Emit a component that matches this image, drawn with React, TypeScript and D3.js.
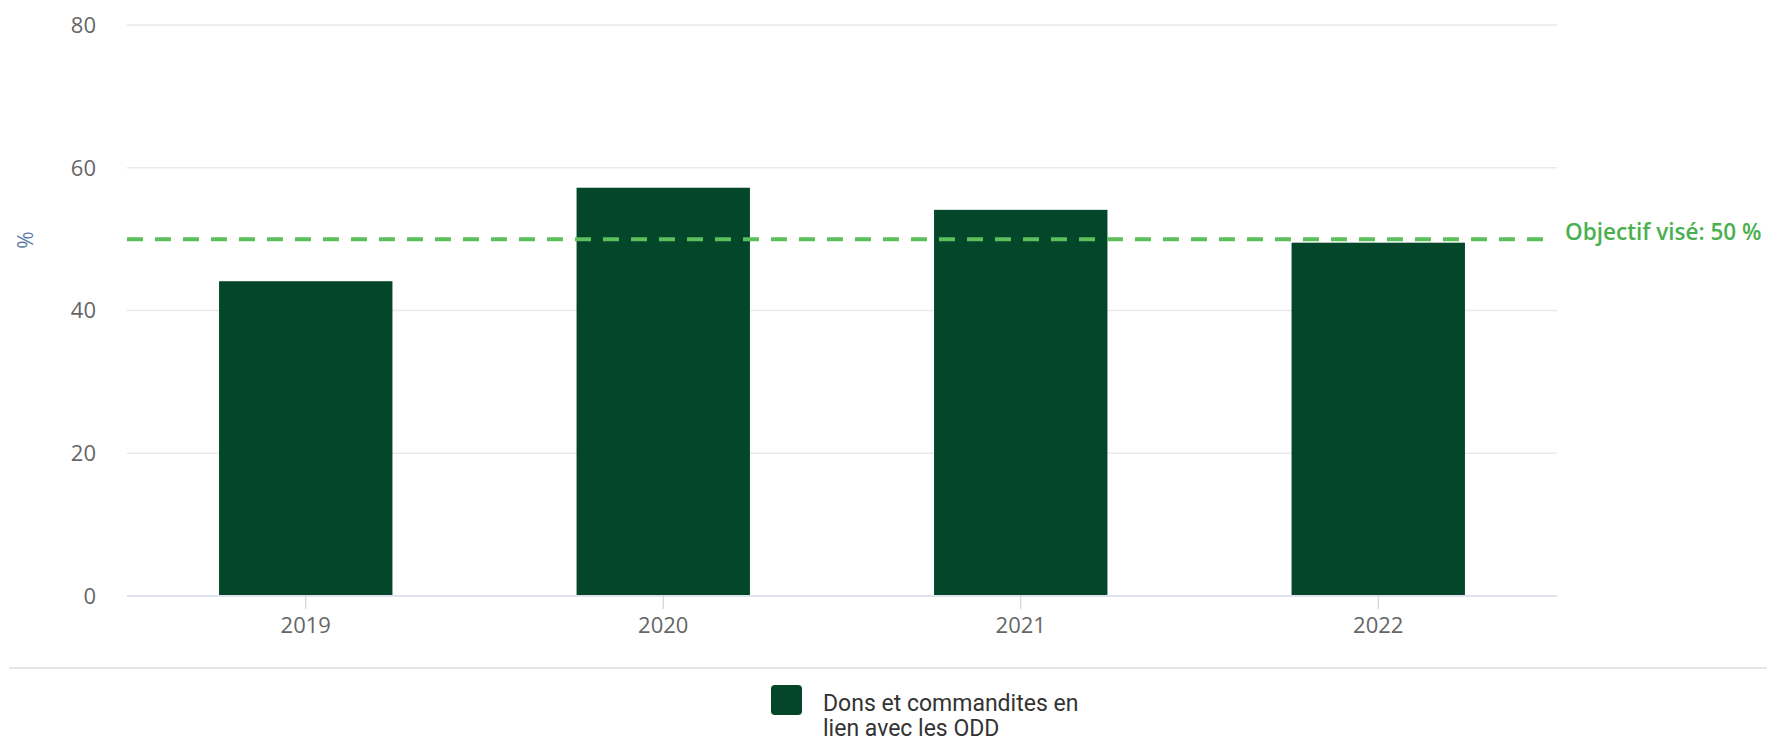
import React from "react";
import * as d3 from "d3";

const categories = ["2019", "2020", "2021", "2022"];
const values = [44.1, 57.2, 54.1, 49.5];
const yTicks = [0, 20, 40, 60, 80];
const targetValue = 50;
const targetLabel = "Objectif visé: 50 %";
const seriesName = ["Dons et commandites en", "lien avec les ODD"];
const yTitle = "%";

const W = 1767;
const H = 739;
const plotLeft = 127;
const plotRight = 1557;
const plotTop = 25;
const plotBottom = 596;

export default function App() {
  const x = d3.scaleBand<string>().domain(categories).range([plotLeft, plotRight]).paddingInner(0.515).paddingOuter(0.2575);
  const y = d3.scaleLinear().domain([0, 80]).range([plotBottom, plotTop]);
  const font = "'Open Sans', 'Noto Sans', sans-serif";
  const legendFont = "Roboto, 'Noto Sans', sans-serif";
  return (
    <svg width={W} height={H} style={{ position: "absolute", left: 0, top: 0, display: "block" }}>
      <rect x={0} y={0} width={W} height={H} fill="#ffffff" />
      {yTicks.map((t) => (
        <g key={t}>
          {t !== 0 && (
            <line x1={plotLeft} x2={plotRight} y1={y(t)} y2={y(t)} stroke="#e9e9e9" strokeWidth={1.5} />
          )}
          <text x={96} y={y(t)} dy="0.36em" textAnchor="end" fontFamily={font} fontSize={22} fill="#666666">
            {t}
          </text>
        </g>
      ))}
      <text
        transform={`translate(26, ${y(targetValue) + 1}) rotate(-90)`}
        textAnchor="middle"
        dy="0.35em"
        fontFamily={font}
        fontSize={21}
        fill="#5b7ba6"
      >
        {yTitle}
      </text>
      {categories.map((c, i) => (
        <rect key={c} x={x(c)} y={y(values[i])} width={x.bandwidth()} height={y(0) - y(values[i])} fill="#03462a" />
      ))}
      <line x1={plotLeft} x2={plotRight} y1={plotBottom} y2={plotBottom} stroke="#dfe3ee" strokeWidth={2} />
      {categories.map((c) => {
        const cx = (x(c) as number) + x.bandwidth() / 2;
        return (
          <g key={c}>
            <line x1={cx} x2={cx} y1={plotBottom} y2={plotBottom + 13} stroke="#cccccc" strokeWidth={1} />
            <text x={cx} y={625} dy="0.36em" textAnchor="middle" fontFamily={font} fontSize={22} fill="#666666">
              {c}
            </text>
          </g>
        );
      })}
      <line
        x1={plotLeft}
        x2={1553}
        y1={y(targetValue)}
        y2={y(targetValue)}
        stroke="#5cbf5c"
        strokeWidth={4}
        strokeDasharray="16 12"
      />
      <text x={1565} y={y(targetValue) + 0.5} fontFamily={font} fontWeight={600} fontSize={22.5} fill="#4caf50">
        {targetLabel}
      </text>
      <line x1={9} x2={W} y1={668} y2={668} stroke="#e6e6e6" strokeWidth={2} />
      <rect x={771} y={685} width={31} height={30} rx={4} fill="#03462a" />
      <text fontFamily={legendFont} fontSize={23} fill="#333333">
        <tspan x={823} y={711}>{seriesName[0]}</tspan>
        <tspan x={823} y={736}>{seriesName[1]}</tspan>
      </text>
    </svg>
  );
}
